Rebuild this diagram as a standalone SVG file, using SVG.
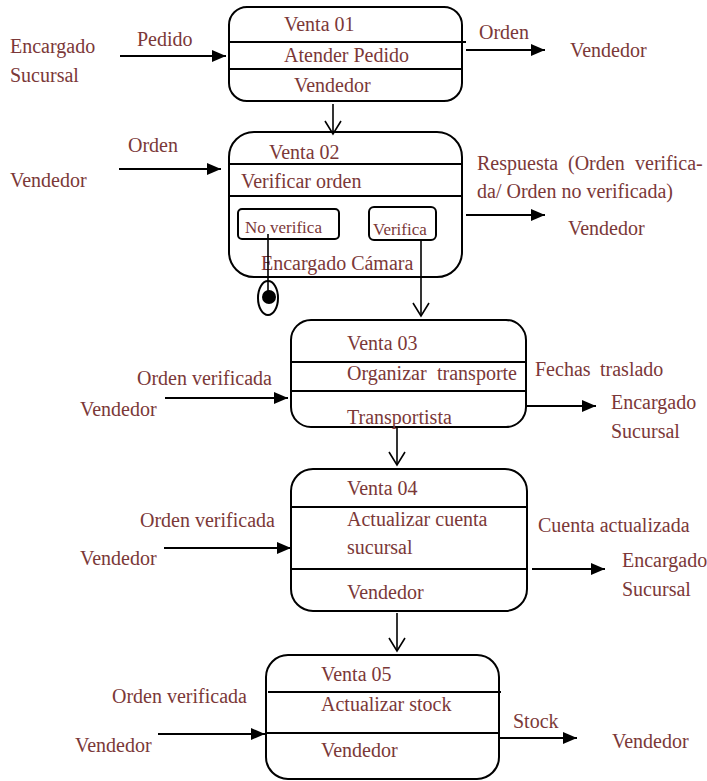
<svg xmlns="http://www.w3.org/2000/svg" width="707" height="781" viewBox="0 0 707 781">
<defs>
<marker id="fill" viewBox="0 0 14 12" refX="14" refY="6" markerWidth="14" markerHeight="12" markerUnits="userSpaceOnUse" orient="auto"><path d="M0,0 L14,6 L0,12 z" fill="#000"/></marker>
<marker id="open" viewBox="0 0 14 16" refX="13" refY="8" markerWidth="14" markerHeight="16" markerUnits="userSpaceOnUse" orient="auto" overflow="visible"><path d="M0,0 L13,8 L0,16" fill="none" stroke="#000" stroke-width="1.6"/></marker>
</defs>
<style>
text{font-family:"Liberation Serif","Times New Roman",serif;font-size:20px;fill:#7b3838}
.s{font-size:17px}
.box{fill:#fff;stroke:#000;stroke-width:2}
.sep{stroke:#000;stroke-width:2}
.flow{stroke:#000;stroke-width:2;fill:none;marker-end:url(#fill)}
.tr{stroke:#000;stroke-width:1.6;fill:none;marker-end:url(#open)}
</style>
<rect width="707" height="781" fill="#fff"/>

<g id="venta01">
<rect class="box" x="229" y="7" width="233" height="94" rx="18"/>
<line class="sep" x1="230" y1="42" x2="466" y2="42"/>
<line class="sep" x1="230" y1="69" x2="462" y2="69"/>
<text x="284" y="31">Venta 01</text>
<text x="284" y="62">Atender Pedido</text>
<text x="294" y="92">Vendedor</text>
</g>

<g id="venta02">
<rect class="box" x="229" y="132" width="233" height="145" rx="25"/>
<line class="sep" x1="230" y1="164" x2="462" y2="164"/>
<line class="sep" x1="230" y1="196" x2="462" y2="196"/>
<text x="269" y="159">Venta 02</text>
<text x="241" y="188">Verificar orden</text>
<text x="261" y="270">Encargado Cámara</text>
<g id="noverifica">
<rect x="238" y="209" width="101" height="30" rx="4" fill="#fff" stroke="#000" stroke-width="2"/>
<text class="s" x="245" y="233">No verifica</text>
</g>
<g id="verifica">
<rect x="369" y="207" width="67" height="33" rx="5" fill="#fff" stroke="#000" stroke-width="2"/>
<text class="s" x="373" y="235">Verifica</text>
</g>
</g>

<g id="final">
<ellipse cx="268" cy="298" rx="10" ry="17" fill="none" stroke="#000" stroke-width="2"/>
<circle cx="269" cy="297" r="7" fill="#000"/>
</g>

<g id="venta03">
<rect class="box" x="291" y="320" width="235" height="107" rx="20"/>
<line class="sep" x1="292" y1="362" x2="526" y2="362"/>
<line class="sep" x1="292" y1="391" x2="526" y2="391"/>
<text x="347" y="350">Venta 03</text>
<text x="347" y="380">Organizar</text>
<text x="437" y="380">transporte</text>
<text x="347" y="424">Transportista</text>
</g>

<g id="venta04">
<rect class="box" x="291" y="469" width="236" height="142" rx="22"/>
<line class="sep" x1="292" y1="507" x2="527" y2="507"/>
<line class="sep" x1="292" y1="569" x2="527" y2="569"/>
<text x="347" y="495">Venta 04</text>
<text x="347" y="526">Actualizar cuenta</text>
<text x="347" y="554">sucursal</text>
<text x="347" y="599">Vendedor</text>
</g>

<g id="venta05">
<rect class="box" x="266" y="655" width="233" height="124" rx="22"/>
<line class="sep" x1="268" y1="692" x2="501" y2="692"/>
<line class="sep" x1="267" y1="733" x2="499" y2="733"/>
<text x="321" y="681">Venta 05</text>
<text x="321" y="711">Actualizar stock</text>
<text x="321" y="757">Vendedor</text>
</g>

<g id="labels">
<text x="10" y="53">Encargado</text>
<text x="10" y="82">Sucursal</text>
<text x="137" y="46">Pedido</text>
<text x="479" y="39">Orden</text>
<text x="570" y="57">Vendedor</text>
<text x="128" y="152">Orden</text>
<text x="10" y="187">Vendedor</text>
<text x="477" y="170">Respuesta</text>
<text x="568" y="170">(Orden</text>
<text x="635" y="170">verifica-</text>
<text x="477" y="198">da/ Orden no verificada)</text>
<text x="568" y="235">Vendedor</text>
<text x="137" y="385">Orden verificada</text>
<text x="80" y="416">Vendedor</text>
<text x="535" y="376">Fechas</text>
<text x="600" y="376">traslado</text>
<text x="611" y="409">Encargado</text>
<text x="611" y="438">Sucursal</text>
<text x="140" y="527">Orden verificada</text>
<text x="80" y="565">Vendedor</text>
<text x="538" y="532">Cuenta actualizada</text>
<text x="622" y="567">Encargado</text>
<text x="622" y="596">Sucursal</text>
<text x="112" y="703">Orden verificada</text>
<text x="75" y="752">Vendedor</text>
<text x="513" y="728">Stock</text>
<text x="612" y="748">Vendedor</text>
</g>

<g id="connectors">
<line class="flow" x1="120" y1="56" x2="226" y2="56"/>
<line class="flow" x1="466" y1="50" x2="545" y2="50"/>
<line class="tr" x1="333" y1="104" x2="333" y2="134"/>
<line class="flow" x1="119" y1="169" x2="221" y2="169"/>
<line class="flow" x1="466" y1="215" x2="545" y2="215"/>
<line class="tr" x1="421" y1="240" x2="421" y2="316"/>
<line x1="268" y1="234" x2="268" y2="296" stroke="#000" stroke-width="1.6"/>
<line class="flow" x1="165" y1="398" x2="288" y2="398"/>
<line class="flow" x1="526" y1="406" x2="596" y2="406"/>
<line class="tr" x1="397" y1="428" x2="397" y2="465"/>
<line class="flow" x1="164" y1="548" x2="291" y2="548"/>
<line class="flow" x1="532" y1="569" x2="605" y2="569"/>
<line class="tr" x1="397" y1="613" x2="397" y2="651"/>
<line class="flow" x1="158" y1="734" x2="265" y2="734"/>
<line class="flow" x1="499" y1="738" x2="577" y2="738"/>
</g>
</svg>
